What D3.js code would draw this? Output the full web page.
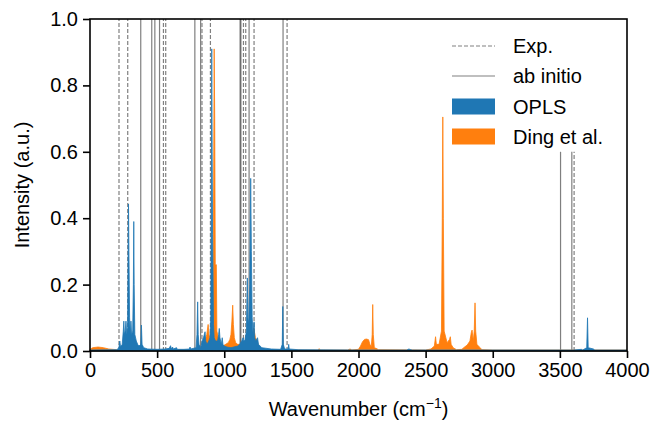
<!DOCTYPE html>
<html><head><meta charset="utf-8">
<script src="https://cdn.jsdelivr.net/npm/d3@7"></script>
<style>
body{margin:0;background:#fff;}
svg text{font-family:"Liberation Sans",Arial,sans-serif;fill:#000;}
</style></head>
<body><svg id="c" width="654" height="422"></svg>
<script>
// ---- data ----
const xTicks = [0, 500, 1000, 1500, 2000, 2500, 3000, 3500, 4000];
const yTicks = [0.0, 0.2, 0.4, 0.6, 0.8, 1.0];
const expLines = [216, 281, 547, 564, 834, 897, 1143, 1160, 1222, 1468];
const expLinesHigh = [3606];
const abLines = [378, 460, 483, 518, 781, 824, 1118, 1124, 1185, 1438];
const abLinesHigh = [3505, 3589];
const legendLabels = ["Exp.", "ab initio", "OPLS", "Ding et al."];
const oplsWn = [0,200,215,222,228,240,248,252,256,262,268,274,280,284,287,290,295,300,305,310,318,323,326,329,334,345,355,365,378,383,388,400,430,500,560,590,600,606,615,620,645,650,700,740,745,750,790,797,802,806,812,825,835,845,857,862,872,885,893,900,904,907,910,913,916,920,925,935,950,958,963,968,978,985,990,1000,1020,1050,1100,1115,1130,1140,1146,1155,1165,1172,1176,1182,1190,1197,1202,1208,1215,1222,1227,1235,1248,1255,1280,1350,1420,1432,1436,1440,1450,1476,1480,1484,1550,2000,2360,2375,2390,2400,3600,3660,3670,3700,3706,3711,3750,3760,4000];
const oplsI = [0.003,0.004,0.01,0.03,0.012,0.02,0.06,0.09,0.05,0.06,0.09,0.05,0.07,0.3,0.443,0.3,0.1,0.05,0.09,0.05,0.06,0.2,0.39,0.2,0.05,0.03,0.02,0.015,0.02,0.078,0.02,0.01,0.006,0.005,0.006,0.008,0.016,0.006,0.012,0.006,0.01,0.005,0.005,0.006,0.012,0.006,0.01,0.05,0.148,0.05,0.02,0.01,0.03,0.04,0.058,0.03,0.02,0.03,0.04,0.1,0.5,0.91,0.6,0.35,0.25,0.08,0.04,0.03,0.03,0.05,0.068,0.04,0.02,0.04,0.02,0.015,0.012,0.01,0.015,0.02,0.03,0.04,0.03,0.035,0.06,0.22,0.1,0.08,0.2,0.52,0.3,0.1,0.05,0.088,0.04,0.03,0.04,0.02,0.01,0.006,0.005,0.02,0.134,0.02,0.006,0.006,0.02,0.006,0.004,0.003,0.003,0.006,0.004,0.003,0.003,0.005,0.003,0.01,0.1,0.01,0.006,0.003,0.003];
const dingWn = [0,20,60,100,140,200,400,500,780,820,850,870,880,888,900,915,921,925,929,933,936,941,945,955,970,990,1010,1030,1042,1050,1057,1063,1068,1075,1085,1100,1130,1150,1170,1190,1210,1220,1232,1245,1260,1300,1600,1700,1707,1714,1920,1937,1950,2000,2015,2030,2045,2060,2075,2085,2095,2102,2106,2110,2118,2130,2150,2500,2540,2565,2574,2580,2600,2618,2624,2628,2632,2638,2660,2678,2684,2690,2705,2730,2770,2790,2810,2830,2840,2846,2855,2862,2868,2873,2882,2900,2920,3000,4000];
const dingI = [0.005,0.01,0.012,0.01,0.006,0.004,0.004,0.003,0.004,0.01,0.02,0.05,0.08,0.04,0.05,0.1,0.5,0.91,0.7,0.26,0.26,0.26,0.06,0.04,0.02,0.015,0.02,0.025,0.035,0.05,0.09,0.138,0.08,0.04,0.025,0.02,0.02,0.02,0.03,0.03,0.05,0.07,0.04,0.03,0.01,0.004,0.003,0.003,0.007,0.003,0.003,0.006,0.003,0.005,0.015,0.028,0.035,0.036,0.034,0.02,0.012,0.05,0.14,0.05,0.01,0.008,0.004,0.003,0.006,0.015,0.043,0.02,0.02,0.06,0.4,0.705,0.4,0.06,0.025,0.035,0.043,0.02,0.01,0.004,0.005,0.012,0.018,0.03,0.055,0.063,0.03,0.06,0.145,0.06,0.02,0.012,0.004,0.003,0.003];

// ---- layout ----
const L = 90, R = 627, T = 19, B = 351;
const blue = "#1f77b4", orange = "#ff7f0e";
const svg = d3.select("#c");
const x = d3.scaleLinear().domain([0, 4000]).range([L, R]);
const y = d3.scaleLinear().domain([0, 1]).range([B, T]);

const g = svg.append("g");
function vlines(arr, top, dashed) {
  g.selectAll(null).data(arr).enter().append("line")
    .attr("x1", d => x(d)).attr("x2", d => x(d))
    .attr("y1", y(0)).attr("y2", y(top))
    .attr("stroke", dashed ? "#808080" : "#000")
    .attr("stroke-opacity", dashed ? 1 : 0.5)
    .attr("stroke-width", 1.2)
    .attr("stroke-dasharray", dashed ? "4,2" : null);
}
vlines(abLines, 1, false);
vlines(abLinesHigh, 0.6, false);
vlines(expLines, 1, true);
vlines(expLinesHigh, 0.6, true);

const area = d3.area().x(d => x(d[0])).y0(y(0)).y1(d => y(d[1]));
const ding = dingWn.map((w, i) => [w, dingI[i]]);
const opls = oplsWn.map((w, i) => [w, oplsI[i]]);
g.append("path").datum(ding).attr("d", area).attr("fill", orange).attr("stroke", orange).attr("stroke-width", 0.8);
g.append("path").datum(opls).attr("d", area).attr("fill", blue).attr("stroke", blue).attr("stroke-width", 0.8);

// axes
const fs = 20;
const xa = svg.append("g").attr("transform", `translate(0,${B})`)
  .call(d3.axisBottom(x).tickValues(xTicks).tickFormat(d3.format("d")).tickSize(7).tickPadding(5));
const ya = svg.append("g").attr("transform", `translate(${L},0)`)
  .call(d3.axisLeft(y).tickValues(yTicks).tickFormat(d3.format(".1f")).tickSize(7).tickPadding(5));
[xa, ya].forEach(a => {
  a.select(".domain").remove();
  a.selectAll("line").attr("stroke", "#000").attr("stroke-width", 1.6);
  a.selectAll("text").attr("font-size", fs).attr("font-family", "Liberation Sans, Arial, sans-serif");
});
svg.append("rect").attr("x", L).attr("y", T).attr("width", R - L).attr("height", B - T)
  .attr("fill", "none").attr("stroke", "#000").attr("stroke-width", 1.6);

// axis labels
const xl = svg.append("text").attr("x", (L + R) / 2).attr("y", 416).attr("text-anchor", "middle").attr("font-size", fs);
xl.append("tspan").text("Wavenumber (cm");
xl.append("tspan").attr("dy", -8).attr("font-size", 14).text("\u22121");
xl.append("tspan").attr("dy", 8).text(")");
svg.append("text").attr("transform", `translate(29,${(T + B) / 2}) rotate(-90)`)
  .attr("text-anchor", "middle").attr("font-size", fs).text("Intensity (a.u.)");

// legend
const lx0 = 452, lx1 = 495, tx = 513, rows = [46, 76, 106.5, 136.5];
const lg = svg.append("g");
lg.append("line").attr("x1", lx0).attr("x2", lx1).attr("y1", rows[0]).attr("y2", rows[0])
  .attr("stroke", "#808080").attr("stroke-width", 1.2).attr("stroke-dasharray", "4,2");
lg.append("line").attr("x1", lx0).attr("x2", lx1).attr("y1", rows[1]).attr("y2", rows[1])
  .attr("stroke", "#000").attr("stroke-opacity", 0.5).attr("stroke-width", 1.2);
lg.append("rect").attr("x", lx0).attr("y", rows[2] - 8).attr("width", lx1 - lx0).attr("height", 16).attr("fill", blue);
lg.append("rect").attr("x", lx0).attr("y", rows[3] - 8).attr("width", lx1 - lx0).attr("height", 16).attr("fill", orange);
lg.selectAll("text.l").data(legendLabels).enter().append("text").attr("class", "l")
  .attr("x", tx).attr("y", (d, i) => rows[i]).attr("dy", "0.35em").attr("font-size", fs).text(d => d);
</script></body></html>
